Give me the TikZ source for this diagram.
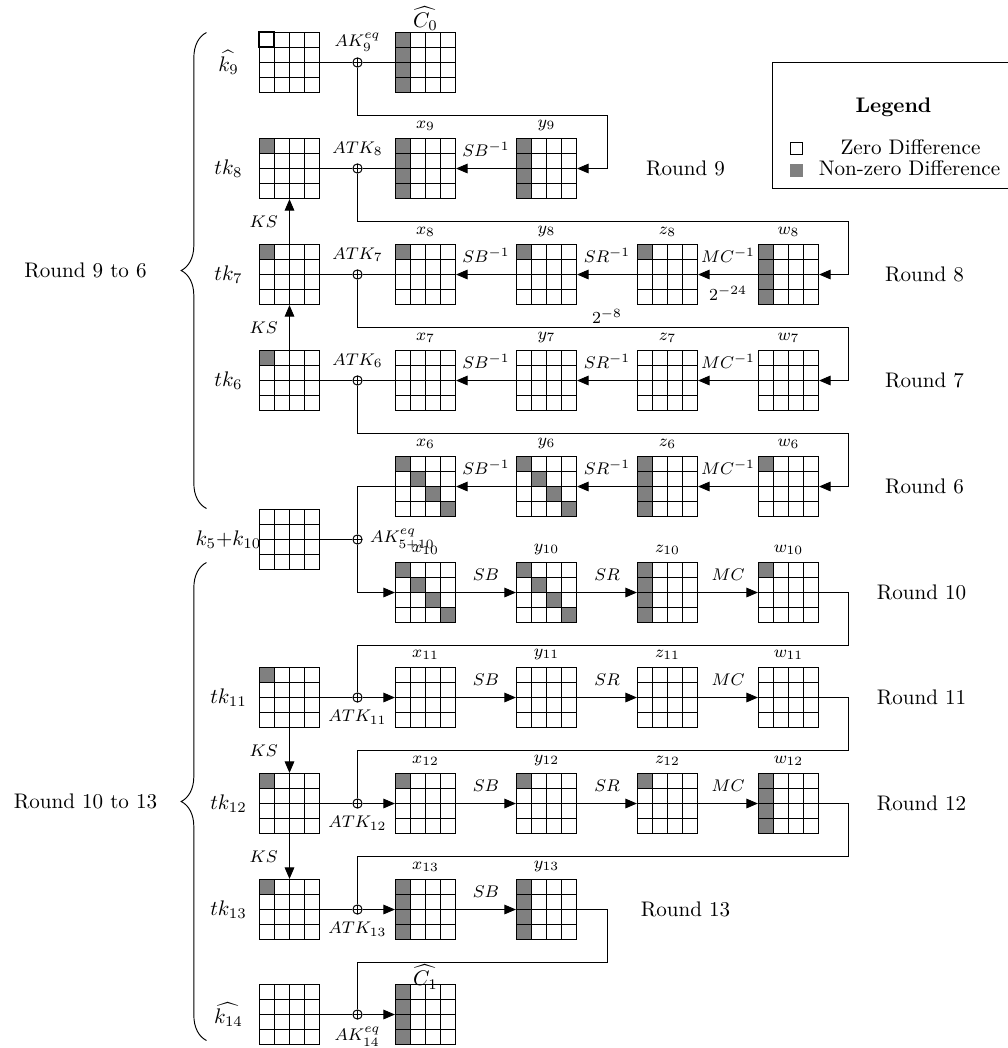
\documentclass[tikz,border=0pt]{standalone}
\usepackage{amsmath,amssymb}
\usepackage{tikz}
\usetikzlibrary{arrows.meta,positioning,calc,decorations.pathreplacing}

\begin{document}
\begin{tikzpicture}[x=0.474pt,y=-0.474pt,
  graycells/.store in=\graylist, graycells={},
  st/.style={draw,line width=0.55pt,minimum size=28.44pt,inner sep=0pt,graycells={#1},
    path picture={
      \ifx\graylist\empty\else
        \foreach \cx/\ry in \graylist
          \fill[gray] ([shift={(\cx*7.11pt,-\ry*7.11pt)}]path picture bounding box.north west)
            rectangle ++(7.11pt,-7.11pt);
      \fi
      \foreach \i in {1,2,3} {
        \draw ([xshift=\i*7.11pt]path picture bounding box.north west) -- ++(0pt,-28.44pt);
        \draw ([yshift=-\i*7.11pt]path picture bounding box.north west) -- ++(28.44pt,0pt);
      }}},
  st/.default={},
  cornerst/.style={st={0/0}},
  colst/.style={st={0/0,0/1,0/2,0/3}},
  diagst/.style={st={0/0,1/1,2/2,3/3}},
  xor/.style={draw,circle,fill=white,inner sep=0pt,minimum size=4.4pt,
    path picture={\draw (path picture bounding box.north) -- (path picture bounding box.south)
      (path picture bounding box.west) -- (path picture bounding box.east);}},
  lbl/.style={font=\footnotesize},
  arr/.style={-{Triangle[length=5.5pt,width=4.6pt]}},
  brc/.style={decorate,decoration={brace,amplitude=12pt}},
  line width=0.45pt]
  \useasboundingbox (0,0) rectangle (1008,1048);
  \begin{scope}[shift={(0.5,0.5)}]

  % key column
  \foreach \n/\yy/\sty/\lab in {k9/62/st/{\widehat{k_9}}, tk8/168/cornerst/{tk_8},
      tk7/274/cornerst/{tk_7}, tk6/380/cornerst/{tk_6}, k510/539/st/{k_5{+}k_{10}},
      tk11/697/cornerst/{tk_{11}}, tk12/803/cornerst/{tk_{12}},
      tk13/909/cornerst/{tk_{13}}, k14/1014/st/{\widehat{k_{14}}}}
  {
    \node[\sty] (\n) at (289,\yy) {};
    \node (l\n) at (228,\yy) {$\lab$};
  }
  \draw[line width=0.75pt] (k9.north west) rectangle ++(7.11pt,-7.11pt);

  \foreach \n/\yy in {9/62,8/168,7/274,6/380,5/539,11/697,12/803,13/909,14/1014}
    \node[xor] (xr\n) at (357,\yy) {};

  % states
  \node[colst,label={[yshift=-3pt]above:$\widehat{C_0}$}] (c0) at (425,62) {};
  \node[colst,label={[lbl]above:$x_9$}] (x9) at (425,168) {};
  \node[colst,label={[lbl]above:$y_9$}] (y9) at (546,168) {};
  \foreach \rn/\yy/\sa/\sb/\sc/\sd in {8/274/cornerst/cornerst/cornerst/colst,
      7/380/st/st/st/st, 6/486/diagst/diagst/colst/cornerst,
      10/592/diagst/diagst/colst/cornerst, 11/697/st/st/st/st,
      12/803/cornerst/cornerst/cornerst/colst}
  {
    \node[\sa,label={[lbl]above:$x_{\rn}$}] (x\rn) at (425,\yy) {};
    \node[\sb,label={[lbl]above:$y_{\rn}$}] (y\rn) at (546,\yy) {};
    \node[\sc,label={[lbl]above:$z_{\rn}$}] (z\rn) at (667,\yy) {};
    \node[\sd,label={[lbl]above:$w_{\rn}$}] (w\rn) at (788,\yy) {};
  }
  \node[colst,label={[lbl]above:$x_{13}$}] (x13) at (425,909) {};
  \node[colst,label={[lbl]above:$y_{13}$}] (y13) at (546,909) {};
  \node[colst,label={[yshift=-6pt]above:$\widehat{C_1}$}] (c1) at (425,1014) {};

  % key additions
  \draw (k9) -- (xr9) -- (c0);
  \draw (tk8) -- (xr8) -- (x9);
  \draw (tk7) -- (xr7) -- (x8);
  \draw (tk6) -- (xr6) -- (x7);
  \draw (k510) -- (xr5);
  \foreach \rn in {11,12,13} {
    \draw (tk\rn) -- (xr\rn);
    \draw[arr] (xr\rn) -- (x\rn);
  }
  \draw (k14) -- (xr14);
  \draw[arr] (xr14) -- (c1);
  \node[lbl,above=-1pt of xr9] (ak9) {$AK_9^{eq}$};
  \foreach \n in {8,7,6} \node[lbl,above=0pt of xr\n] (atk\n) {$ATK_{\n}$};
  \node[lbl,right=0pt of xr5] (ak5) {$AK_{5+10}^{eq}$};
  \foreach \n in {11,12,13} \node[lbl,below=0pt of xr\n] (atk\n) {$ATK_{\n}$};
  \node[lbl,below=0pt of xr14] (ak14) {$AK_{14}^{eq}$};

  % key schedule
  \draw[arr] (tk7) -- node[lbl,left=2pt] (ks8) {$KS$} (tk8);
  \draw[arr] (tk6) -- node[lbl,left=2pt] (ks7) {$KS$} (tk7);
  \draw[arr] (tk11) -- node[lbl,left=2pt] (ks12) {$KS$} (tk12);
  \draw[arr] (tk12) -- node[lbl,left=2pt] (ks13) {$KS$} (tk13);

  % backward rounds
  \draw[arr] (y9) -- node[lbl,above=2pt] (isb9) {$SB^{-1}$} (x9);
  \foreach \rn in {8,7,6} {
    \draw[arr] (w\rn) -- node[lbl,above=2pt] (imc\rn) {$MC^{-1}$} (z\rn);
    \draw[arr] (z\rn) -- node[lbl,above=2pt] (isr\rn) {$SR^{-1}$} (y\rn);
    \draw[arr] (y\rn) -- node[lbl,above=2pt] (isb\rn) {$SB^{-1}$} (x\rn);
  }
  \path (w8) -- node[lbl,below=2pt] (p24) {$2^{-24}$} (z8);
  \path (z8) -- node[lbl,below=13pt] (p8) {$2^{-8}$} (y8);

  % forward rounds
  \foreach \rn in {10,11,12} {
    \draw[arr] (x\rn) -- node[lbl,above=2pt] (sb\rn) {$SB$} (y\rn);
    \draw[arr] (y\rn) -- node[lbl,above=2pt] (sr\rn) {$SR$} (z\rn);
    \draw[arr] (z\rn) -- node[lbl,above=2pt] (mc\rn) {$MC$} (w\rn);
  }
  \draw[arr] (x13) -- node[lbl,above=2pt] (sb13) {$SB$} (y13);

  % wires between rounds
  \coordinate (rt) at (848,0);
  \coordinate (rs) at (607,0);
  \draw[arr] (xr9) |- ($(xr9)!.5!(y9)$) -| (y9.east -| rs) -- (y9);
  \foreach \a in {8,7,6}
    \draw[arr] (xr\a) |- ($(xr\a)!.5!(w\a)$) -| (w\a.east -| rt) -- (w\a);
  \draw (x6.west) -| (xr5);
  \draw[arr] (xr5) |- (x10.west);
  \foreach \a/\b in {10/11,11/12,12/13}
    \draw (w\a) -- (w\a.east -| rt) |- ($(w\a)!.5!(xr\b)$) -| (xr\b);
  \draw (y13) -- (y13.east -| rs) |- ($(y13)!.5!(xr14)$) -| (xr14);

  \foreach \rn/\xx/\yy in {9/685/168, 8/924/274, 7/924/380, 6/924/486,
      10/921/592, 11/921/697, 12/921/803, 13/685/909}
    \node (rd\rn) at (\xx,\yy) {Round \rn};

  % braces
  \draw[brc] (206,508) -- (206,32);
  \draw[brc] (206,1040) -- (206,562);
  \node (up) at (85,270) {Round 9 to 6};
  \node (lo) at (85,801) {Round 10 to 13};

  % legend
  \node[draw,minimum width=115pt,minimum height=60pt] (lgd) at (893,125) {};
  \node[font=\bfseries] (lgdt) at (893,107) {Legend};
  \node[draw,minimum size=5.5pt,inner sep=0pt] (lz) at (796,148) {};
  \node[fill=gray,minimum size=6pt,inner sep=0pt] (lnz) at (796,170) {};
  \node (tz) at (910,147) {Zero Difference};
  \node (tnz) at (909,168) {Non-zero Difference};
  \end{scope}
\end{tikzpicture}
\end{document}
